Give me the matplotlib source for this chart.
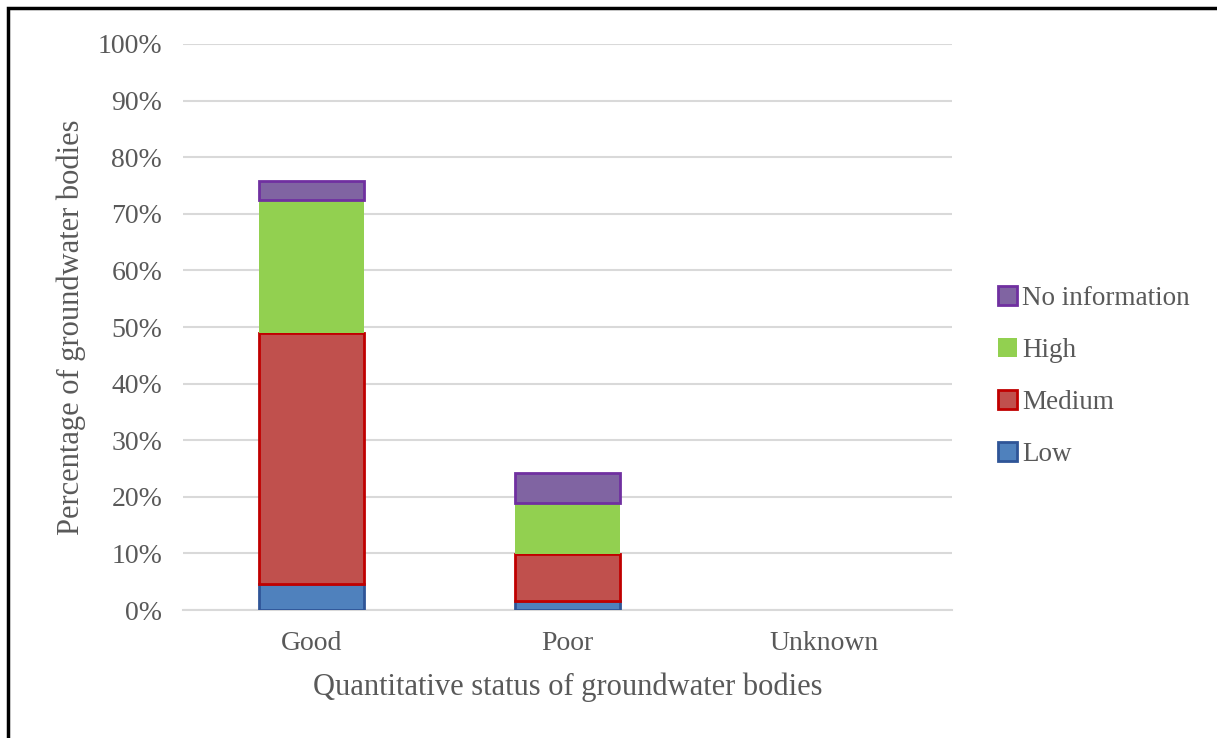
import numpy as np
import matplotlib.pyplot as plt
from matplotlib.patches import Rectangle

plt.rcParams['font.family'] = ['Liberation Serif', 'DejaVu Serif']

categories = ["Good", "Poor", "Unknown"]
low = [4.6, 1.6, 0]
medium = [44.3, 8.3, 0]
high = [23.5, 9.0, 0]
no_info = [3.4, 5.3, 0]

series = [
    ("Low", low, "#4F81BD", "#2F5597"),
    ("Medium", medium, "#C0504D", "#C00000"),
    ("High", high, "#92D050", "#92D050"),
    ("No information", no_info, "#8064A2", "#7030A0"),
]

txt = "#595959"
fig = plt.figure(figsize=(12.17, 7.38), dpi=100)
ax = fig.add_axes([0.1504, 0.1734, 0.632, 0.767])

x = np.arange(len(categories))
bottom = np.zeros(len(categories))
handles = []
for name, vals, fc, ec in series:
    vals = np.array(vals, dtype=float)
    lw = [2 if (fc != ec and v > 0) else 0 for v in vals]
    b = ax.bar(x, vals, 0.41, bottom=bottom, color=fc, edgecolor=ec,
               linewidth=lw, label=name, zorder=3)
    handles.append(b)
    bottom += vals

ax.set_xlim(-0.5, 2.5)
ax.set_ylim(0, 100)
ax.set_yticks(np.arange(0, 101, 10))
ax.set_yticklabels([f"{v}%" for v in range(0, 101, 10)])
ax.set_xticks(x)
ax.set_xticklabels(categories)
ax.yaxis.grid(True, color="#D9D9D9", linewidth=1.5, zorder=0)
ax.set_axisbelow(True)
for s in ["top", "right", "left"]:
    ax.spines[s].set_visible(False)
ax.spines["bottom"].set_color("#D9D9D9")
ax.spines["bottom"].set_linewidth(1.5)
ax.tick_params(axis="both", length=0, labelsize=20, colors=txt)
ax.tick_params(axis="y", pad=15)
ax.tick_params(axis="x", pad=15)

ax.set_xlabel("Quantitative status of groundwater bodies", fontsize=22, color=txt, labelpad=12)
ax.set_ylabel("Percentage of groundwater bodies", fontsize=22, color=txt, labelpad=8)

hs = [h[0] for h in handles[::-1]]
leg = fig.legend(hs, [s[0] for s in series][::-1], loc="center left",
                 bbox_to_anchor=(0.811, 0.49), frameon=False, fontsize=19.5,
                 handlelength=0.7, handleheight=0.7, handletextpad=0.2,
                 labelspacing=1.0, labelcolor=txt, borderaxespad=0)

fig.patches.append(Rectangle((8 / 1217, -0.1), 1.2, 1 - 8 / 738 + 0.1,
                             transform=fig.transFigure, fill=False,
                             edgecolor="black", linewidth=2.5))

fig.savefig("out.png", dpi=100)
